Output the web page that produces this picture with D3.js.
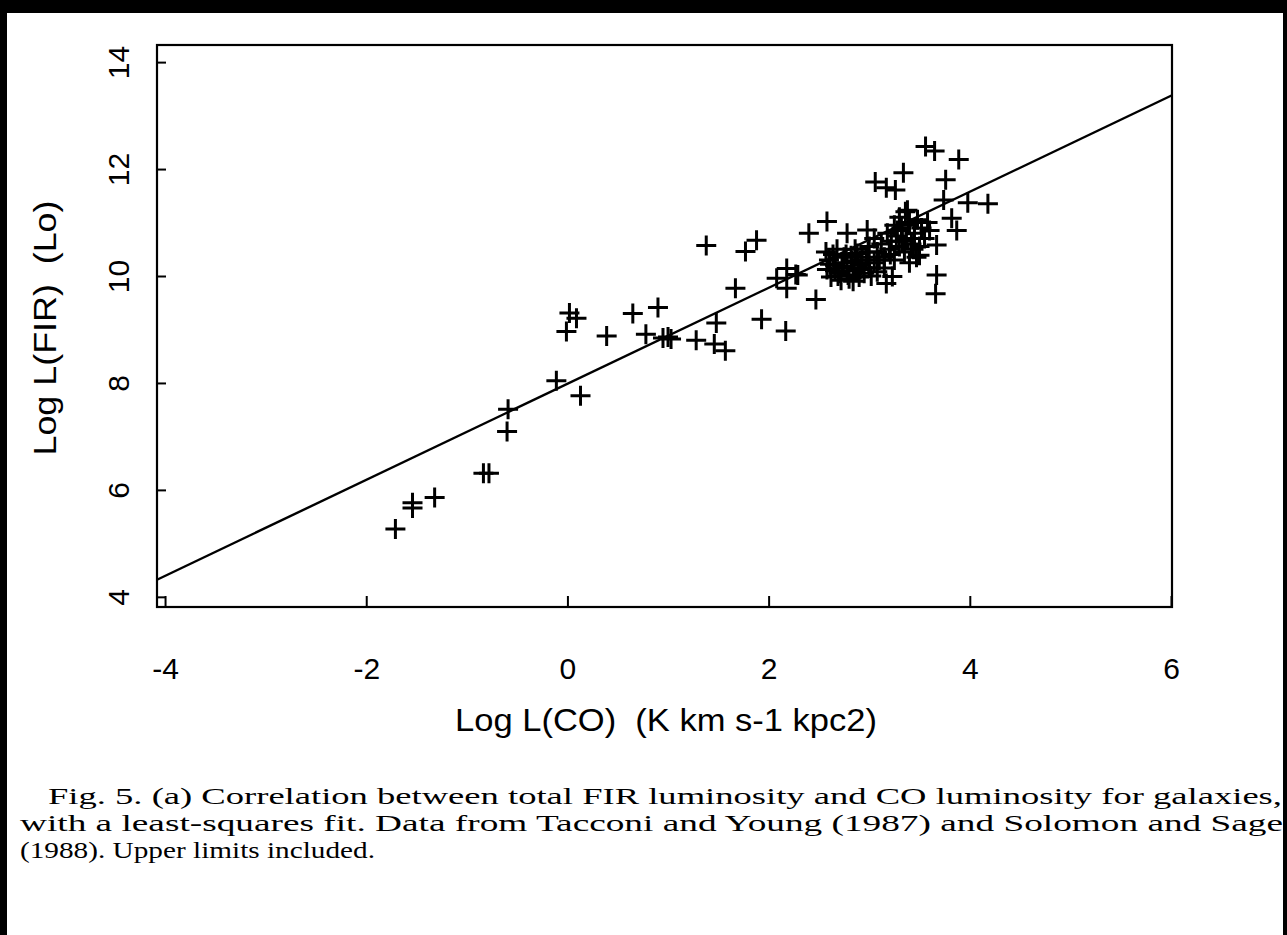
<!DOCTYPE html>
<html>
<head>
<meta charset="utf-8">
<script src="https://cdn.jsdelivr.net/npm/d3@7"></script>
<style>
  body { margin: 0; background: #fff; }
  svg { display: block; }
</style>
</head>
<body>
<div id="chart"></div>
<script>
var width = 1287;
var height = 935;

// log L(CO), log L(FIR)
var logCO = [
  -1.71, -1.54, -1.54, -1.32, -0.835, -0.78, -0.60, -0.59, -0.11, 0.13,
  -0.01, 0.02, 0.09, 0.39, 0.65, 0.90, 0.78, 0.95, 1.00, 1.03,
  1.38, 1.77, 1.88, 1.67, 1.28, 1.48, 1.46, 1.57, 1.93, 2.17,
  2.40, 2.58, 2.08, 2.18, 2.27, 2.18, 2.47, 2.78, 2.29,
  3.56, 3.65, 3.89, 3.34, 3.76, 3.06, 3.17, 3.26, 3.74, 3.98,
  4.18, 3.82, 3.87, 3.67, 3.67, 3.66, 2.98, 3.17, 3.23, 3.38, 3.50,
  // dense cluster
  2.57, 2.60, 2.58, 2.62, 2.66, 2.70, 2.72, 2.75, 2.78, 2.80,
  2.83, 2.85, 2.88, 2.90, 2.92, 2.95, 2.97, 3.00, 3.02, 2.68,
  2.74, 2.86, 2.64, 2.79, 2.93, 3.05, 3.08,
  3.00, 3.05, 3.08, 3.12, 3.15, 3.18, 3.20, 3.22, 3.25, 3.27,
  3.30, 3.32, 3.35, 3.37, 3.40, 3.42, 3.45, 3.47, 3.50, 3.52,
  3.30, 3.36, 3.40, 3.55, 3.48, 3.25, 3.15, 3.10, 3.60, 3.58,
  2.61, 2.69, 2.77, 2.84, 2.91, 2.99, 2.66, 2.73, 2.82, 2.89,
  3.33, 3.44, 3.28, 3.39, 3.21
];
var logFIR = [
  5.27, 5.76, 5.66, 5.86, 6.31, 6.31, 7.09, 7.51, 8.04, 7.76,
  8.96, 9.31, 9.21, 8.88, 9.30, 9.41, 8.91, 8.84, 8.86, 8.82,
  10.57, 10.46, 10.67, 9.77, 8.80, 9.12, 8.73, 8.60, 9.19, 8.97,
  10.80, 11.02, 9.96, 10.14, 10.03, 9.77, 9.56, 10.80, 10.02,
  12.42, 12.34, 12.18, 11.93, 11.80, 11.76, 11.65, 11.61, 11.42, 11.37,
  11.35, 11.08, 10.85, 10.58, 10.02, 9.67, 10.86, 9.86, 9.99, 11.23, 10.39,
  10.45, 10.30, 10.12, 9.98, 10.20, 10.05, 9.92, 10.35, 10.15, 9.95,
  10.28, 10.10, 10.42, 9.98, 10.20, 10.05, 10.35, 10.15, 10.00, 10.50,
  10.25, 10.50, 10.40, 10.02, 10.30, 10.25, 10.08,
  10.55, 10.70, 10.45, 10.60, 10.35, 10.80, 10.50, 10.65, 10.30, 10.75,
  10.55, 10.90, 10.45, 10.70, 11.00, 10.60, 10.80, 10.35, 10.55, 10.90,
  11.10, 11.20, 10.25, 10.70, 11.05, 10.95, 10.15, 10.30, 10.85, 11.00,
  10.22, 10.00, 10.40, 9.90, 10.12, 10.45, 10.10, 10.18, 10.38, 10.25,
  10.65, 10.50, 10.85, 10.95, 10.40
];

// least-squares line end points
var fitX = [-4.08, 6.01];
var fitY = [4.32, 13.38];

var xTicks = [-4, -2, 0, 2, 4, 6];
var yTicks = [4, 6, 8, 10, 12, 14];

var caption = [
  "Fig. 5. (a) Correlation between total FIR luminosity and CO luminosity for galaxies,",
  "with a least-squares fit. Data from Tacconi and Young (1987) and Solomon and Sage",
  "(1988). Upper limits included."
];

var plotLeft = 157, plotRight = 1172, plotTop = 45, plotBottom = 607;

var svg = d3.select("#chart")
   .append("svg")
   .attr("width", width)
   .attr("height", height);

svg.append("rect").attr("width", width).attr("height", height).attr("fill", "#fff");

// scan border
svg.append("rect").attr("x", 0).attr("y", 0).attr("width", width).attr("height", 13).attr("fill", "#000");
svg.append("rect").attr("x", 0).attr("y", 0).attr("width", 7).attr("height", height).attr("fill", "#000");
svg.append("rect").attr("x", width - 4).attr("y", 0).attr("width", 4).attr("height", height).attr("fill", "#000");

var x = d3.scaleLinear().domain([-4.08, 6.01]).range([plotLeft, plotRight]);
var y = d3.scaleLinear().domain([3.81, 14.32]).range([plotBottom, plotTop]);

var font = "'Liberation Sans', Arial, sans-serif";

// x axis, ticks pointing inward
var xAxis = svg.append("g")
   .attr("transform", "translate(0," + plotBottom + ")")
   .call(d3.axisBottom(x).tickValues(xTicks).tickFormat(function(d) { return String(d); })
      .tickSizeInner(-11).tickSizeOuter(0).tickPadding(0));
xAxis.select(".domain").remove();
xAxis.selectAll("line").attr("stroke", "#000").attr("stroke-width", 2);
xAxis.selectAll("text")
   .attr("y", 72)
   .attr("dy", 0)
   .attr("font-family", font)
   .attr("font-size", "30px")
   .attr("fill", "#000");

// y axis, rotated labels
var yAxis = svg.append("g")
   .attr("transform", "translate(" + plotLeft + ",0)")
   .call(d3.axisLeft(y).tickValues(yTicks).tickFormat(function(d) { return String(d); })
      .tickSizeInner(-9).tickSizeOuter(0));
yAxis.select(".domain").remove();
yAxis.selectAll("line").attr("stroke", "#000").attr("stroke-width", 2);
yAxis.selectAll("text")
   .attr("transform", "rotate(-90)")
   .attr("x", 0)
   .attr("y", -39)
   .attr("dy", "0.36em")
   .attr("text-anchor", "middle")
   .attr("font-family", font)
   .attr("font-size", "30px")
   .attr("fill", "#000");

// frame
svg.append("rect")
   .attr("x", plotLeft).attr("y", plotTop)
   .attr("width", plotRight - plotLeft).attr("height", plotBottom - plotTop)
   .attr("fill", "none")
   .attr("stroke", "#000")
   .attr("stroke-width", 2.2);

// fit line
svg.append("line")
   .attr("x1", x(fitX[0])).attr("y1", y(fitY[0]))
   .attr("x2", x(fitX[1])).attr("y2", y(fitY[1]))
   .attr("stroke", "#000")
   .attr("stroke-width", 2.4);

// plus markers
svg.append("g").selectAll("path")
   .data(logCO)
   .enter()
   .append("path")
   .attr("transform", function(d, i) {
      return "translate(" + x(d) + "," + y(logFIR[i]) + ")";
   })
   .attr("d", "M-10,0H10M0,-10V10")
   .attr("stroke", "#000")
   .attr("stroke-width", 3)
   .attr("fill", "none");

// axis titles
svg.append("text")
   .attr("x", 666).attr("y", 731)
   .attr("text-anchor", "middle")
   .attr("textLength", 422)
   .attr("lengthAdjust", "spacingAndGlyphs")
   .attr("font-family", font)
   .attr("font-size", "31px")
   .attr("fill", "#000")
   .style("white-space", "pre")
   .text("Log L(CO)  (K km s-1 kpc2)");

svg.append("text")
   .attr("transform", "translate(56,328) rotate(-90)")
   .attr("text-anchor", "middle")
   .attr("textLength", 255)
   .attr("lengthAdjust", "spacingAndGlyphs")
   .attr("font-family", font)
   .attr("font-size", "31px")
   .attr("fill", "#000")
   .style("white-space", "pre")
   .text("Log L(FIR)  (Lo)");

// caption
var capX = [48, 20, 20];
var capLen = [1234, 1263, 355];
svg.append("g").selectAll("text")
   .data(caption)
   .enter()
   .append("text")
   .attr("x", function(d, i) { return capX[i]; })
   .attr("y", function(d, i) { return 804 + i * 27; })
   .attr("textLength", function(d, i) { return capLen[i]; })
   .attr("lengthAdjust", "spacingAndGlyphs")
   .attr("font-family", "'Liberation Serif', 'DejaVu Serif', serif")
   .attr("font-size", "23px")
   .attr("fill", "#000")
   .text(function(d) { return d; });
</script>
</body>
</html>
